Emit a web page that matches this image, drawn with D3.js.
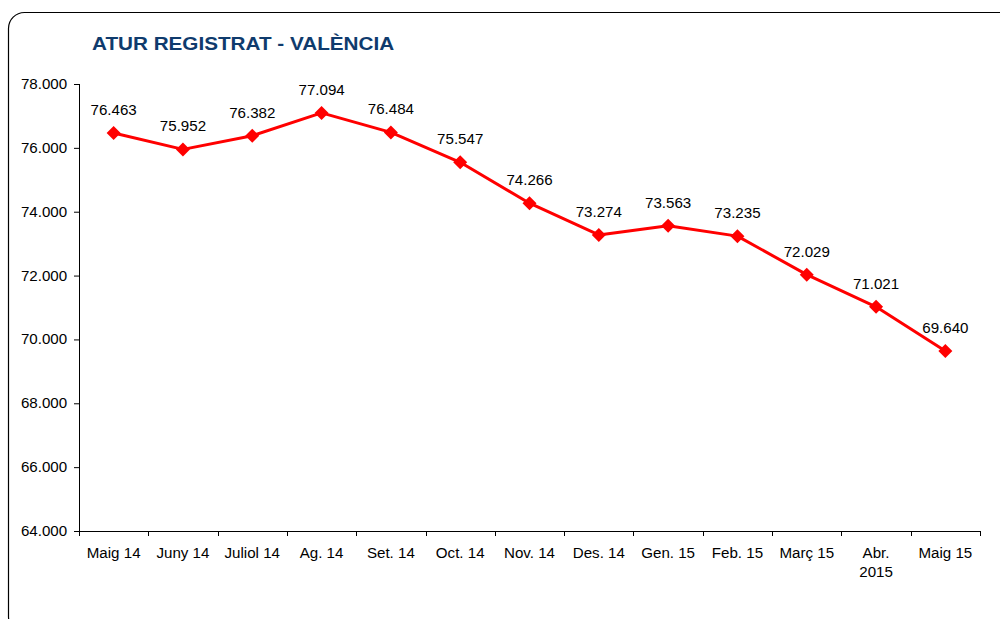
<!DOCTYPE html>
<html>
<head>
<meta charset="utf-8">
<script src="https://cdn.jsdelivr.net/npm/d3@7"></script>
<style>
  body { margin: 0; background: #fff; }
  svg { display: block; }
</style>
</head>
<body>
<div id="chart"></div>
<script>
// data
const months = ["Maig 14", "Juny 14", "Juliol 14", "Ag. 14", "Set. 14", "Oct. 14", "Nov. 14",
  "Des. 14", "Gen. 15", "Feb. 15", "Març 15", "Abr.\n2015", "Maig 15"];
const atur = [76463, 75952, 76382, 77094, 76484, 75547, 74266, 73274, 73563, 73235, 72029, 71021, 69640];
const yTicks = [64000, 66000, 68000, 70000, 72000, 74000, 76000, 78000];

const width = 1000, height = 619;
const margin = { top: 84, left: 79, right: 20, bottom: 88 };
const stretch = 1.08; // the source text is a bit wide
const thousands = function (v) { return d3.format(".3f")(v / 1000); };

const svg = d3.select("#chart").append("svg")
  .attr("width", width)
  .attr("height", height)
  .attr("font-family", "Liberation Sans, Arial, sans-serif");

// chart frame with rounded corners (right and bottom run off the picture)
svg.append("rect")
  .attr("x", 8.5).attr("y", 12.5)
  .attr("width", 1010).attr("height", 620)
  .attr("rx", 16).attr("ry", 16)
  .attr("fill", "none")
  .attr("stroke", "#000")
  .attr("stroke-width", 1.2);

svg.append("text")
  .attr("transform", "translate(92,50) scale(1.15,1)")
  .attr("font-size", "18px")
  .attr("font-weight", "bold")
  .attr("fill", "#0f3b6d")
  .text("ATUR REGISTRAT - VALÈNCIA");

const x = d3.scaleBand()
  .domain(months)
  .range([margin.left, 980]);

const y = d3.scaleLinear()
  .domain([64000, 78000])
  .range([531, margin.top]);

// y axis
const yAxis = svg.append("g")
  .attr("transform", "translate(" + margin.left + ",0)")
  .call(d3.axisLeft(y).tickValues(yTicks).tickSize(5).tickPadding(6)
    .tickFormat(thousands));
yAxis.select(".domain").attr("d", "M0.5," + y(64000) + "V" + y(78000));

// x axis with ticks between categories
const xAxis = svg.append("g")
  .attr("transform", "translate(0," + y(64000) + ")")
  .call(d3.axisBottom(x).tickSize(0).tickPadding(17));
xAxis.select(".domain").attr("d", "M" + margin.left + ",0.5H980");
const bounds = months.map(function (m) { return x(m); }).concat([980]);
xAxis.selectAll(".sep")
  .data(bounds)
  .enter()
  .append("line")
  .attr("class", "sep")
  .attr("x1", function (d) { return Math.round(d) + 0.5; })
  .attr("x2", function (d) { return Math.round(d) + 0.5; })
  .attr("y1", 0).attr("y2", 5)
  .attr("stroke", "#000");

svg.selectAll(".tick text")
  .attr("font-size", "14px")
  .attr("font-family", "Liberation Sans, Arial, sans-serif")
  .attr("fill", "#000")
  .attr("transform", "scale(" + stretch + ",1)");
svg.selectAll(".domain, .tick line").attr("stroke", "#000");

// split multi-line category labels
xAxis.selectAll(".tick text").each(function (d) {
  const parts = d.split("\n");
  if (parts.length > 1) {
    const t = d3.select(this).text(null);
    parts.forEach(function (p, i) {
      t.append("tspan").attr("x", 0).attr("dy", i === 0 ? "0.71em" : "1.38em").text(p);
    });
  }
});

const cx = function (d, i) { return x(months[i]) + x.bandwidth() / 2; };

svg.append("path")
  .datum(atur)
  .attr("fill", "none")
  .attr("stroke", "#ff0000")
  .attr("stroke-width", 3)
  .attr("stroke-linejoin", "round")
  .attr("d", d3.line().x(cx).y(function (d) { return y(d); }));

svg.selectAll(".mark")
  .data(atur)
  .enter()
  .append("path")
  .attr("class", "mark")
  .attr("d", "M0,-7L7,0L0,7L-7,0Z")
  .attr("fill", "#ff0000")
  .attr("transform", function (d, i) { return "translate(" + cx(d, i) + "," + y(d) + ")"; });

svg.selectAll(".lab")
  .data(atur)
  .enter()
  .append("text")
  .attr("class", "lab")
  .attr("transform", function (d, i) {
    return "translate(" + cx(d, i) + "," + (y(d) - 18) + ") scale(" + stretch + ",1)";
  })
  .attr("text-anchor", "middle")
  .attr("font-size", "14px")
  .attr("fill", "#000")
  .text(function (d) { return thousands(d); });
</script>
</body>
</html>
